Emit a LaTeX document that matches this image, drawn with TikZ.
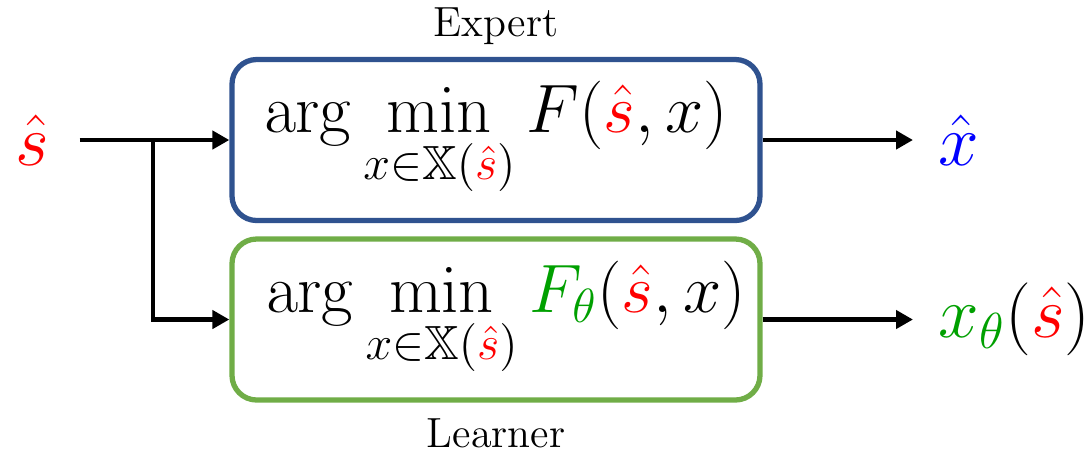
\RequirePackage{fix-cm}
\documentclass[tikz,border=0pt]{standalone}
\usepackage{amsmath}
\usepackage{amssymb}
\usepackage{tikz}
\usetikzlibrary{positioning,arrows.meta,calc}
\definecolor{expertblue}{RGB}{47,82,143}
\definecolor{learnergreen}{RGB}{112,173,71}
\definecolor{paramgreen}{RGB}{0,160,0}
\tikzset{
  solver/.style={draw=#1, line width=1.5pt, rounded corners=7pt, fill=white, align=center, minimum width=5.28cm, minimum height=1.61cm, inner sep=0pt, font=\fontsize{19.5}{23}\selectfont},
  solver/.default={expertblue},
  arrow/.style={-{Triangle[length=0.17cm, width=0.18cm]}, line width=1.4pt, draw=black},
  sig/.style={font=\huge, inner sep=0pt},
  lbl/.style={font=\large, inner sep=1pt}
}

\begin{document}
\begin{tikzpicture}
  \useasboundingbox (0,0) rectangle (10.9,-4.52);
  \node[solver] (expert) at (4.96,-1.40) {$\displaystyle \arg\min_{x\in\mathbb{X}(\textcolor{red}{\hat{s}})} F(\textcolor{red}{\hat{s}}, x)$};
  \node[solver=learnergreen] (learner) at (4.96,-3.195) {\hspace{0.2cm}$\displaystyle \arg\min_{x\in\mathbb{X}(\textcolor{red}{\hat{s}})} \textcolor{paramgreen}{F_\theta}(\textcolor{red}{\hat{s}}, x)$};
  \node[lbl, above=0.08cm of expert] (explbl) {Expert};
  \node[lbl, below=0.12cm of learner] (lrnlbl) {Learner};
  \node[sig] (shat) at (0.32,-1.40) {$\textcolor{red}{\hat{s}}$};
  \node[sig, anchor=west] (xhat) at (9.38,-1.40) {$\textcolor{blue}{\hat{x}}$};
  \node[sig, anchor=west] (xtheta) at (9.38,-3.195) {$\textcolor{paramgreen}{x_\theta}(\textcolor{red}{\hat{s}})$};
  \coordinate (split) at (1.53,-1.40);
  \draw[arrow, shorten <=0.3cm] (shat.east) -- (expert.west);
  \draw[arrow] (split) |- (learner.west);
  \draw[arrow] (expert.east) -- ($(xhat.west)+(-0.25,0)$);
  \draw[arrow] (learner.east) -- ($(xtheta.west)+(-0.25,0)$);
\end{tikzpicture}
\end{document}
